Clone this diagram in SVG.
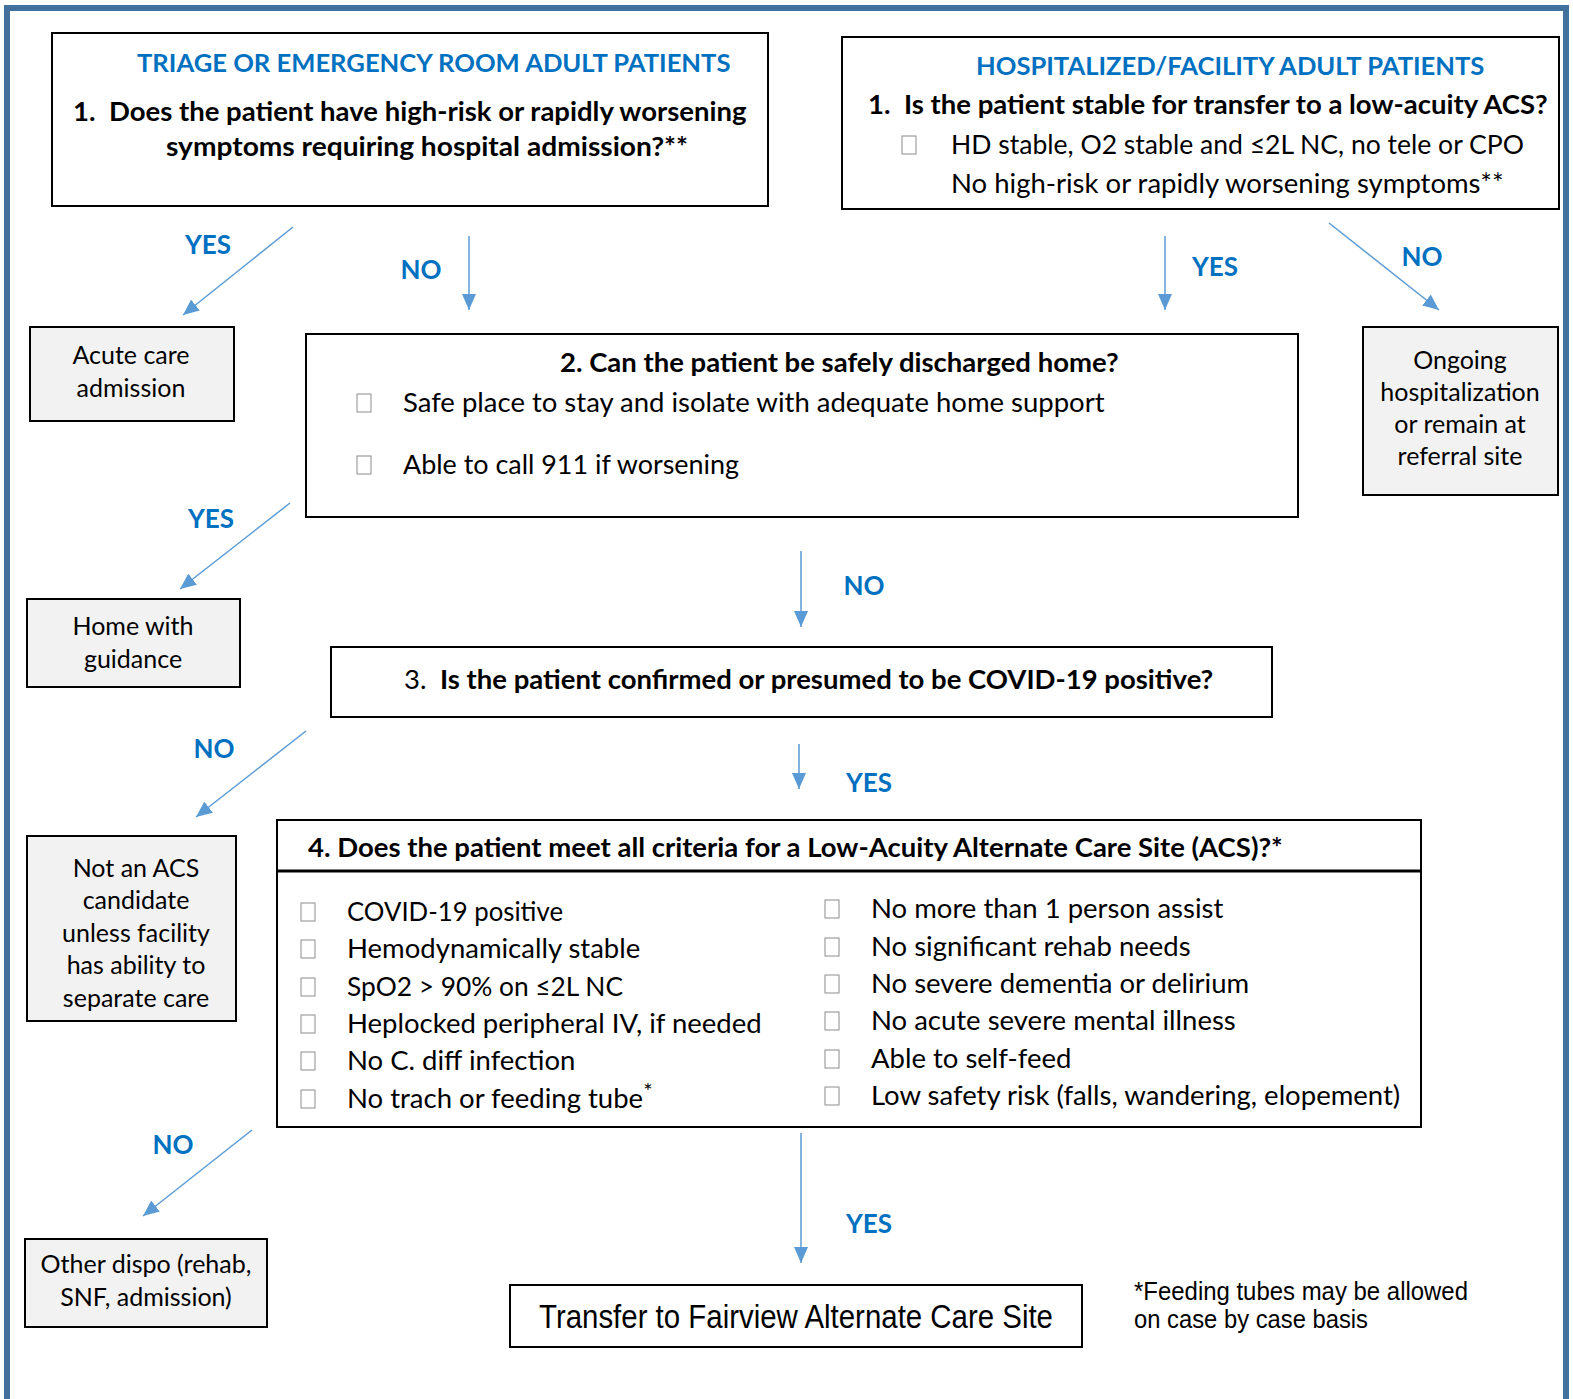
<svg xmlns="http://www.w3.org/2000/svg" width="1573" height="1399" viewBox="0 0 1573 1399">
<defs>
<style>
.frame{fill:none;stroke:#41719C}
.q{fill:#fff;stroke:#000;stroke-width:2}
.out{fill:#F2F2F2;stroke:#000;stroke-width:2}
.cb{fill:#fff;stroke:#8c8c8c;stroke-width:1}
.t{font-family:Lato,"Open Sans","DejaVu Sans",sans-serif;font-size:25px;fill:#000}
.m{font-size:27.5px}
.b{font-weight:bold}
.blue{fill:#0070C0;font-weight:bold;font-size:25.6px}
.lbl{font-family:Lato,"Open Sans",sans-serif;font-size:26px;font-weight:bold;fill:#0070C0;text-anchor:middle}
.c{text-anchor:middle}
.arr{stroke:#5B9BD5;stroke-width:1.5;fill:none;marker-end:url(#ah)}
.ar{font-family:"Liberation Sans",Arial,sans-serif;fill:#000}
</style>
<marker id="ah" viewBox="0 0 16 14" refX="16" refY="7" markerWidth="16" markerHeight="14" markerUnits="userSpaceOnUse" orient="auto">
<path d="M0,0 L16,7 L0,14 z" fill="#5B9BD5"/>
</marker>
</defs>
<rect width="1573" height="1399" fill="#fff"/>
<path class="frame" d="M7,1399 V8 H1566 V1399" stroke-width="6"/>

<g id="triage">
<rect class="q" x="52" y="33" width="716" height="173"/>
<text class="t blue" x="137" y="72">TRIAGE OR EMERGENCY ROOM ADULT PATIENTS</text>
<text class="t m b" x="73" y="121">1.<tspan x="109">Does the patient have high-risk or rapidly worsening</tspan></text>
<text class="t m b" x="166" y="156" textLength="522" lengthAdjust="spacingAndGlyphs">symptoms requiring hospital admission?**</text>
</g>

<g id="hospitalized">
<rect class="q" x="842" y="37" width="717" height="172"/>
<text class="t blue" x="976" y="75">HOSPITALIZED/FACILITY ADULT PATIENTS</text>
<text class="t m b" x="868" y="114">1.<tspan x="904">Is the patient stable for transfer to a low-acuity ACS?</tspan></text>
<rect class="cb" x="902" y="136" width="14" height="18"/>
<text class="t m" x="951" y="154" textLength="573" lengthAdjust="spacingAndGlyphs">HD stable, O2 stable and ≤2L NC, no tele or CPO</text>
<text class="t m" x="951" y="193">No high-risk or rapidly worsening symptoms**</text>
</g>

<g id="acute">
<rect class="out" x="30" y="327" width="204" height="94"/>
<text class="t c" x="131" y="364">Acute care</text>
<text class="t c" x="131" y="397">admission</text>
</g>

<g id="discharge">
<rect class="q" x="306" y="334" width="992" height="183"/>
<text class="t m b" x="560" y="372">2. Can the patient be safely discharged home?</text>
<rect class="cb" x="357" y="394" width="14" height="18"/>
<text class="t m" x="403" y="412">Safe place to stay and isolate with adequate home support</text>
<rect class="cb" x="357" y="456" width="14" height="18"/>
<text class="t m" x="403" y="474" textLength="336" lengthAdjust="spacingAndGlyphs">Able to call 911 if worsening</text>
</g>

<g id="ongoing">
<rect class="out" x="1363" y="327" width="195" height="168"/>
<text class="t c" x="1460" y="369">Ongoing</text>
<text class="t c" x="1460" y="401">hospitalization</text>
<text class="t c" x="1460" y="433">or remain at</text>
<text class="t c" x="1460" y="465">referral site</text>
</g>

<g id="home">
<rect class="out" x="27" y="599" width="213" height="88"/>
<text class="t c" x="133" y="635">Home with</text>
<text class="t c" x="133" y="668">guidance</text>
</g>

<g id="covid">
<rect class="q" x="331" y="647" width="941" height="70"/>
<text class="t m" x="404" y="689">3.<tspan class="b" x="440">Is the patient confirmed or presumed to be COVID-19 positive?</tspan></text>
</g>

<g id="notacs">
<rect class="out" x="27" y="836" width="209" height="185"/>
<text class="t c" x="136" y="877">Not an ACS</text>
<text class="t c" x="136" y="909">candidate</text>
<text class="t c" x="136" y="942">unless facility</text>
<text class="t c" x="136" y="974">has ability to</text>
<text class="t c" x="136" y="1007">separate care</text>
</g>

<g id="criteria">
<rect class="q" x="277" y="820" width="1144" height="307"/>
<line x1="277" y1="871" x2="1421" y2="871" stroke="#000" stroke-width="3"/>
<text class="t m b" x="308" y="857">4. Does the patient meet all criteria for a Low-Acuity Alternate Care Site (ACS)?*</text>
<rect class="cb" x="301" y="903" width="14" height="18"/>
<text class="t m" x="347" y="921" textLength="216" lengthAdjust="spacingAndGlyphs">COVID-19 positive</text>
<rect class="cb" x="301" y="940" width="14" height="18"/>
<text class="t m" x="347" y="958">Hemodynamically stable</text>
<rect class="cb" x="301" y="978" width="14" height="18"/>
<text class="t m" x="347" y="996" textLength="276" lengthAdjust="spacingAndGlyphs">SpO2 &gt; 90% on ≤2L NC</text>
<rect class="cb" x="301" y="1015" width="14" height="18"/>
<text class="t m" x="347" y="1033">Heplocked peripheral IV, if needed</text>
<rect class="cb" x="301" y="1052" width="14" height="18"/>
<text class="t m" x="347" y="1070">No C. diff infection</text>
<rect class="cb" x="301" y="1090" width="14" height="18"/>
<text class="t m" x="347" y="1108">No trach or feeding tube<tspan dy="-9" font-size="22">*</tspan></text>
<rect class="cb" x="825" y="900" width="14" height="18"/>
<text class="t m" x="871" y="918">No more than 1 person assist</text>
<rect class="cb" x="825" y="938" width="14" height="18"/>
<text class="t m" x="871" y="956">No significant rehab needs</text>
<rect class="cb" x="825" y="975" width="14" height="18"/>
<text class="t m" x="871" y="993">No severe dementia or delirium</text>
<rect class="cb" x="825" y="1012" width="14" height="18"/>
<text class="t m" x="871" y="1030">No acute severe mental illness</text>
<rect class="cb" x="825" y="1050" width="14" height="18"/>
<text class="t m" x="871" y="1068">Able to self-feed</text>
<rect class="cb" x="825" y="1087" width="14" height="18"/>
<text class="t m" x="871" y="1105">Low safety risk (falls, wandering, elopement)</text>
</g>

<g id="other">
<rect class="out" x="25" y="1239" width="242" height="88"/>
<text class="t c" x="146" y="1273">Other dispo (rehab,</text>
<text class="t c" x="146" y="1306">SNF, admission)</text>
</g>

<g id="transfer">
<rect class="q" x="510" y="1285" width="572" height="62"/>
<text class="ar" x="796" y="1328" font-size="33" text-anchor="middle" textLength="514" lengthAdjust="spacingAndGlyphs">Transfer to Fairview Alternate Care Site</text>
</g>

<text class="ar" x="1134" y="1300" font-size="25" textLength="334" lengthAdjust="spacingAndGlyphs">*Feeding tubes may be allowed</text>
<text class="ar" x="1134" y="1328" font-size="25" textLength="234" lengthAdjust="spacingAndGlyphs">on case by case basis</text>

<g id="connectors">
<line class="arr" x1="293" y1="227" x2="183" y2="315"/>
<line class="arr" x1="469" y1="236" x2="469" y2="310"/>
<line class="arr" x1="1165" y1="236" x2="1165" y2="310"/>
<line class="arr" x1="1329" y1="223" x2="1439" y2="310"/>
<line class="arr" x1="290" y1="503" x2="180" y2="589"/>
<line class="arr" x1="801" y1="551" x2="801" y2="627"/>
<line class="arr" x1="306" y1="731" x2="196" y2="817"/>
<line class="arr" x1="799" y1="744" x2="799" y2="789"/>
<line class="arr" x1="252" y1="1130" x2="143" y2="1216"/>
<line class="arr" x1="801" y1="1133" x2="801" y2="1263"/>
<text class="lbl" x="208" y="254">YES</text>
<text class="lbl" x="421" y="279">NO</text>
<text class="lbl" x="1215" y="276">YES</text>
<text class="lbl" x="1422" y="266">NO</text>
<text class="lbl" x="211" y="528">YES</text>
<text class="lbl" x="864" y="595">NO</text>
<text class="lbl" x="214" y="758">NO</text>
<text class="lbl" x="869" y="792">YES</text>
<text class="lbl" x="173" y="1154">NO</text>
<text class="lbl" x="869" y="1233">YES</text>
</g>
</svg>
